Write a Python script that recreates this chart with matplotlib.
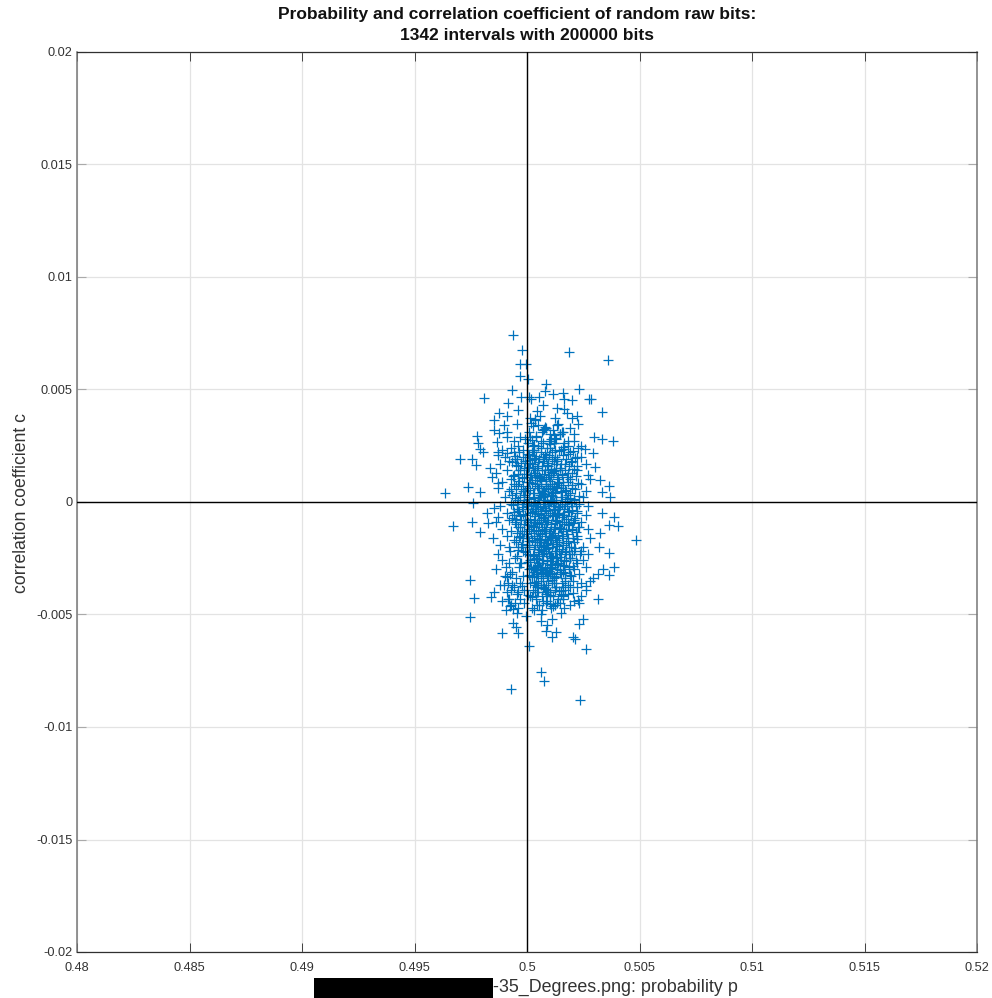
import numpy as np
import matplotlib
matplotlib.use('Agg')
import matplotlib.pyplot as plt
from matplotlib.patches import Rectangle

# values, in units of 1e-4 (p is an offset from 0.5)
outer_dp = [-6.2, -2.1, 18.5, 36, -3.1, -0.3, -3, 0.6, 8.3, 23.3, -6.7, 8.1, 11.7, 15.9, -19.1, -2.8,
            1, 1.8, 5.2, 16.4, 20, 27.7, 28.3, -8.3, 7, -3.9, -12.3, 4.3, 13.2, 16.4, 33.5, -8.7,
            17.6, 22, 19.9, -14.5, 1.3, 12.4, 3.6, -10.2, -4.3, 22.8, 13.8, 2.8, -14.5, -12.3, 11.7, 21,
            -22.1, 29.8, 33.3, 38, -22, -8.7, -13.5, -3, -20.9, -19.7, -12.7, -9, 22.8, 25.8, 29.2, -29.8,
            -24.6, -22.8, -16.4, 22, 30.2, -15.7, -12.7, -26.4, 36.6, 32.4, -36.3, -20.9, 33.5, 37, -24.1,
            -32.7, -24.3, -20.9, -17.2, -14.5, -18, -12.7, 40.6, 36.6, 38.7, 33.5, 48.4, 36.6, 32.1, 32.4,
            38.7, 33.9, 36.6, 29.5, 31.7, -25.5, 26.2, -23.4, -16.2, -14.5, 31.4, 22.8, 20.3, -25.5, -8.3,
            -7.6, -6.1, -4.3, -0.4, 6.1, 6.2, 11, 14.9, 24.8, 23.3, 9.1, -6.1, -4.9, -11, -4, 8.4,
            12.9, 11, 20.3, 21.2, 0.9, 26.1, 6.2, 7.4, -7.1, 23.7, 10.2, 11.4, 16, 13.2, 0.6, -3.9,
            4.3, 9.3, 16, -9, -6.7, -10.2, -2.4]
outer_c = [74.2, 67.7, 66.8, 63, 61.5, 61.5, 55.9, 54.8, 52.4, 50.2, 49.6, 49.2, 48.1, 48.3, 46.4, 46.8,
           46.5, 45.9, 46.8, 45.6, 45.3, 45.9, 45.6, 43.9, 43.1, 40.9, 39.7, 40.6, 41.8, 41.2, 40.1, 38.2,
           39.4, 38.4, 37.5, 36.3, 37.2, 37.2, 36.4, 34.4, 34.7, 34.5, 34.7, 33.8, 32, 30.8, 32, 30.2,
           29.2, 28.7, 28.1, 27.3, 26.2, 28.7, 26.8, 29, 23.7, 22.2, 22.4, 21.6, 23.9, 23.4, 21.6, 19.1,
           19.3, 16.3, 15, 20, 15.7, 11.3, 8.3, 6.8, 7.3, 9.8, 4.1, 4.4, 4.6, 2.4, -0.3,
           -10.8, -9, -13.3, -9.5, -2.8, -5, -6.5, -10.7, -10.2, -6.8, -5, -16.9, -22.8, -19.9, -14,
           -28.7, -29.9, -32.6, -33.9, -32, -34.7, -37.3, -42.5, -42.4, -40.1, -43.3, -43.7, -40.3, -51, -42.9,
           -46.2, -47.7, -49.5, -50.7, -49.8, -53, -51.9, -49.5, -51.9, -54.2, -54.7, -54, -55.7, -58.4, -58.4, -57.2,
           -57.9, -60.1, -59.9, -60.7, -64.1, -65.5, -75.4, -79.4, -83.1, -88.1, -45.3, -46.2, -41.2, -45, -41.5, -39.9,
           -39.9, -39.1, -37.6, -33.2, -36.9, -36.9, -37.3]

core_dp = [1, 4, 7, 10, 13, 16, 19, -1, -6, -9, 12, 5, 2.5, 8.5, 14.5, 18,
           -4, 0.5, 3, 6, 9, 12, 15, 18, 21, -7, -11, 24, 1.5, 5, 10.5, 16.5,
           -10, -6, -2, 1, 3.5, 6, 8.5, 11, 13.5, 16, 19, 24, -13, 2.5, 7.5, 12.5,
           -12, -8, -4, -1, 2, 4.5, 7, 9.5, 12, 14.5, 17, 20, 26, -5.5, 5.5, 10.5,
           -14, -9, -6, -3, 0.5, 3, 5.5, 8, 10.5, 13, 15.5, 18, 22, 27, 1.5, 6.5,
           -11, -7, -4, -1.5, 1, 3.5, 6, 8.5, 11, 13.5, 16, 19, 24, 28, 4.5, 9.5,
           -13, -8, -5, -2, 0.5, 2.5, 5, 7.5, 10, 12.5, 15, 17.5, 20, 26, 3.5, 8.5,
           -10, -6.5, -4, -1.5, 1, 3, 5.5, 8, 10.5, 13, 15.5, 18, 21, 25, 6.5, 11.5,
           -12, -7, -4.5, -2, 0.5, 2.5, 4.5, 7, 9.5, 12, 14.5, 17, 20, 23, 27, 10.5,
           -9, -6, -3.5, -1, 1.5, 3.5, 6, 8.5, 11, 13.5, 16, 18.5, 22, 26, 5, 12.5,
           -14, -8, -5, -2.5, 0.5, 3, 5.5, 8, 10.5, 13, 15.5, 18, 21, 24, 7, 9.5,
           -11, -7, -4, -1.5, 1, 2.5, 5, 7.5, 10, 12.5, 15, 17.5, 20, 23, 27, 3.5,
           -15, -9, -6, -3, 0.5, 3, 5.5, 8, 10.5, 13, 15.5, 18, 22, 28, 6.5, 11.5,
           -12, -8, -5, -2.5, 1, 3.5, 6, 8.5, 11, 13.5, 16, 18.5, 21, 25, 4.5, 9.5,
           -13, -7.5, -4.5, -2, 0.5, 3, 5.5, 7.5, 10, 12.5, 15, 17.5, 20, 24, 27, 8.5,
           -11, -8, -5.5, -3, 1.5, 4, 6.5, 9, 11.5, 14, 16.5, 19, 22, 25, 3, 13,
           -14, -9.5, -6.5, -3.5, 1, 3.5, 6, 8.5, 11, 13.5, 16, 18.5, 21, 26, 5, 10,
           -10, -7.5, -5, -2, 2, 4.5, 7, 9.5, 12, 14.5, 17, 19.5, 23, 28, 6, 11,
           -12, -8.5, -6, -3, 1.5, 3.5, 6, 8.5, 11, 13, 15.5, 18, 20.5, 24, 9.5, 4.5,
           -9, -7, -4.5, -1.5, 2.5, 5, 7.5, 10, 12.5, 15, 17, 19, 22, 26, 3.5, 8.5,
           -11, -8, -5.5, -3, 1.5, 4, 6.5, 9, 11.5, 14, 16, 18, 21, 24, 7, 10,
           -9.5, -7, -4, -1.5, 2, 4.5, 6.5, 8.5, 10.5, 12.5, 14.5, 16.5, 19, 23, 3, 5.5]
core_c = [31, 29, 32, 30, 28, 31, 33, 28, 27, 31, 26, 34, 25, 33, 30, 27,
          25, 26, 23, 27, 24, 26, 23, 25, 27, 24, 23, 25, 29, 25, 28, 26,
          20, 22, 20, 21, 19, 22, 20, 22, 19, 21, 22, 20, 21, 23, 19, 23,
          17, 18, 16, 18, 17, 15, 18, 16, 18, 15, 17, 18, 17, 19, 19, 14,
          13, 14, 12, 14, 15, 13, 11, 14, 12, 14, 12, 13, 14, 12, 11, 16,
          9, 10, 8, 11, 9, 11, 8, 10, 8, 10, 9, 10, 8, 10, 12, 12,
          6, 5, 7, 5, 6, 4, 6, 5, 7, 4, 6, 5, 6, 5, 8, 7,
          2, 3, 1, 3, 2, 0, 2, 1, 3, 1, 2, 3, 1, 2, 4, 4,
          -2, -1, -3, -1, -2, -3, -1, -2, -1, -3, -2, -1, -2, -1, -2, 0,
          -5, -6, -4, -6, -5, -4, -6, -4, -6, -5, -6, -4, -5, -6, -3, -3,
          -9, -8, -10, -8, -9, -8, -10, -8, -10, -8, -9, -10, -8, -9, -7, -6,
          -12, -13, -11, -13, -12, -11, -13, -12, -13, -11, -12, -13, -12, -11, -12, -9,
          -16, -15, -17, -15, -16, -15, -17, -15, -16, -17, -15, -16, -15, -16, -14, -14,
          -19, -20, -18, -20, -19, -18, -20, -19, -20, -18, -19, -20, -18, -20, -18, -17,
          -23, -22, -24, -22, -23, -21, -23, -22, -24, -22, -23, -22, -23, -22, -23, -21,
          -26, -27, -25, -27, -26, -25, -27, -26, -25, -27, -26, -25, -27, -26, -24, -25,
          -30, -29, -31, -29, -30, -29, -30, -31, -29, -30, -31, -29, -30, -29, -28, -28,
          -33, -32, -34, -33, -33, -32, -34, -32, -33, -31, -34, -33, -32, -35, -31, -32,
          -37, -36, -38, -36, -36, -37, -35, -37, -36, -38, -36, -37, -35, -36, -35, -38,
          -40, -39, -41, -39, -39, -40, -38, -40, -39, -41, -39, -38, -38, -39, -40, -41,
          -44, -43, -45, -43, -42, -43, -42, -44, -42, -43, -42, -41, -44, -42, -44, -42,
          -48, -46, -47, -45, -47, -46, -48, -45, -47, -46, -45, -47, -46, -45, -48, -46]

# the solid middle of the cloud
dense_dp = [2.2, 4.1, 6.4, 8.2, 10.4, 12.3, 14.2, 16.4, 18.1, 20.3, 0.4, -1.8, -3.6, -5.4, 3.3, 7.3,
            1.3, 3.2, 5.1, 7.2, 9.3, 11.1, 13.2, 15.3, 17.2, 19.4, 21.2, -0.7, -2.6, -4.6, -6.5, 9.9,
            2.7, 4.8, 6.8, 8.7, 10.8, 12.7, 14.8, 16.8, 18.7, 20.7, 22.3, -1.2, -3.1, -5.1, 0.9, 11.8,
            1.8, 3.7, 5.8, 7.7, 9.8, 11.7, 13.7, 15.7, 17.7, 19.8, 21.8, -0.3, -2.3, -4.2, -6.1, 6.3,
            2.4, 4.4, 6.2, 8.4, 10.2, 12.2, 14.3, 16.2, 18.3, 20.2, 22.6, 0.2, -1.6, -3.4, -5.7, 13.4,
            1.2, 3.1, 5.3, 7.1, 9.2, 11.3, 13.1, 15.2, 17.1, 19.2, 21.3, -0.9, -2.8, -4.8, -7.2, 8.1,
            2.9, 4.9, 6.9, 8.9, 10.9, 12.9, 14.9, 16.9, 18.9, 20.9, 23.1, 0.7, -1.4, -3.3, -5.2, 5.7,
            1.6, 3.6, 5.6, 7.6, 9.6, 11.6, 13.6, 15.6, 17.6, 19.6, 21.6, -0.5, -2.4, -4.4, -6.4, 10.1,
            2.1, 4.2, 6.1, 8.3, 10.3, 12.1, 14.1, 16.3, 18.2, 20.1, 22.1, 0.3, -1.9, -3.8, -5.9, 7.9,
            1.4, 3.4, 5.4, 7.4, 9.4, 11.4, 13.4, 15.4, 17.4, 19.4, 21.4, -0.8, -2.9, -4.7, -6.8, 12.6,
            2.6, 4.6, 6.6, 8.6, 10.6, 12.6, 14.6, 16.6, 18.6, 20.6, 22.8, 0.6, -1.3, -3.2, -5.3, 9.1,
            1.9, 3.9, 5.9, 7.9, 9.9, 11.9, 13.9, 15.9, 17.9, 19.9, 21.9, -0.4, -2.2, -4.3, 6.7, 14.4,
            2.3, 4.3, 6.3, 8.1, 10.1, 12.4, 14.4, 16.1, 18.4, 20.4, 22.4, 0.8, -1.7, -3.7, 5.2, 11.2,
            1.1, 3.5, 5.5, 7.5, 9.5, 11.5, 13.5, 15.5, 17.5, 19.5, 21.5, 0.1, -2.1, -4.1, 8.8, 6.1,
            2.8, 4.7, 6.7, 8.5, 10.7, 12.8, 14.7, 16.7, 18.8, 20.8, 23.4, 1.2, -1.1, -3.9, 7.1, 13.2,
            1.5, 3.3, 5.2, 7.3, 9.1, 11.2, 13.3, 15.1, 17.3, 19.1, 21.7, 0.5, -2.7, 4.5, 6.6, 10.6,
            2.5, 4.5, 6.5, 8.8, 10.5, 12.5, 14.5, 16.5, 18.5, 20.5, 1.7, 3.8, 5.9, 7.8, 9.7, 15.8,
            1.0, 3.0, 5.0, 7.0, 9.0, 11.0, 13.0, 15.0, 17.0, 19.0, 2.0, 4.0, 6.0, 8.0, 10.0, 12.0,
            2.2, 4.4, 6.2, 8.4, 10.6, 12.2, 14.4, 16.6, 18.2, 1.4, 3.6, 5.4, 7.6, 9.4, 11.6, 13.8,
            1.8, 3.2, 5.8, 7.2, 9.8, 11.2, 13.6, 15.2, 17.8, 2.6, 4.8, 6.4, 8.6, 10.2, 12.8, 14.2,
            2.4, 4.2, 6.8, 8.2, 10.4, 12.6, 14.8, 16.2, 1.6, 3.4, 5.6, 7.4, 9.6, 11.8, 13.4, 15.6,
            3.1, 5.1, 7.1, 9.1, 11.1, 13.1, 15.1, 2.1, 4.1, 6.1, 8.1, 10.1, 12.1, 14.1, 16.1, 17.1]
dense_c = [22.3, 20.6, 23.8, 21.4, 24.2, 20.2, 22.7, 23.6, 21.2, 22.8, 21.4, 23.1, 22.2, 20.6, 25.4, 26.2,
           18.7, 19.4, 17.6, 19.8, 17.3, 19.2, 18.2, 16.9, 19.1, 17.8, 19.6, 18.3, 17.2, 19.2, 17.7, 20.8,
           15.2, 16.1, 14.4, 16.3, 14.8, 16.7, 15.3, 14.2, 15.9, 14.6, 15.8, 15.2, 14.1, 16.4, 15.7, 13.8,
           11.8, 12.7, 10.6, 12.4, 11.2, 13.1, 10.9, 12.3, 11.1, 12.9, 11.7, 12.4, 10.8, 12.6, 11.4, 9.7,
           8.6, 7.3, 9.2, 7.8, 9.4, 7.2, 8.8, 7.4, 9.1, 7.6, 8.3, 8.8, 7.1, 9.3, 8.1, 6.7,
           5.2, 4.1, 6.3, 4.7, 5.8, 4.3, 6.1, 4.6, 5.4, 3.9, 5.7, 4.8, 5.9, 4.2, 5.6, 3.6,
           1.8, 0.7, 2.4, 1.1, 2.7, 0.9, 2.2, 0.6, 1.9, 1.3, 2.6, 1.2, 0.8, 2.3, 1.6, 3.1,
           -1.2, -0.4, -2.1, -0.8, -1.7, -0.3, -2.4, -0.9, -1.6, -0.5, -1.9, -1.1, -2.2, -0.7, -1.4, 0.4,
           -4.3, -3.2, -5.1, -3.6, -4.8, -3.4, -5.3, -3.1, -4.6, -3.7, -4.1, -3.3, -5.2, -3.8, -4.4, -2.6,
           -7.4, -6.3, -8.2, -6.8, -7.9, -6.1, -8.4, -6.6, -7.7, -6.2, -7.3, -8.1, -6.4, -7.6, -6.9, -5.6,
           -10.7, -9.4, -11.3, -9.8, -10.9, -9.2, -11.6, -9.7, -10.4, -9.3, -11.1, -10.2, -9.6, -11.2, -9.1, -8.8,
           -13.8, -12.6, -14.4, -12.9, -13.7, -12.2, -14.6, -13.1, -14.2, -12.4, -13.3, -14.1, -12.8, -13.6, -12.3, -11.7,
           -17.1, -15.8, -17.6, -16.3, -16.9, -15.6, -17.8, -16.2, -17.3, -15.9, -16.6, -17.4, -16.1, -15.4, -16.4, -15.2,
           -20.2, -18.9, -20.8, -19.3, -20.4, -18.7, -19.6, -20.9, -18.4, -19.8, -20.3, -19.1, -18.6, -19.9, -18.2, -21.2,
           -23.4, -22.1, -24.2, -22.6, -23.8, -21.9, -24.4, -22.4, -23.1, -21.7, -22.9, -23.6, -22.2, -21.4, -23.3, -24.6,
           -26.7, -25.3, -27.1, -25.8, -26.4, -25.1, -27.4, -25.6, -26.2, -24.9, -25.9, -26.6, -27.2, -25.4, -26.9, -27.6,
           -29.6, -28.4, -30.2, -28.8, -29.3, -28.1, -30.4, -28.6, -29.8, -28.3, -29.2, -30.1, -28.9, -29.4, -30.6, -28.2,
           -32.4, -31.2, -33.1, -31.7, -32.8, -31.4, -33.3, -32.1, -31.6, -32.6, -33.4, -31.8, -32.9, -31.3, -32.2, -33.6,
           9.6, 10.9, 3.1, 6.9, 13.4, 0.2, -2.9, -5.7, -8.7, 17.2, 14.3, 11.4, 2.8, 6.4, -0.6, -4.7,
           -10.1, -13.1, -16.8, -19.4, -22.7, -26.1, 8.4, 5.1, 1.4, -1.9, -5.4, -8.9, -12.7, -15.7, -18.8, -21.6,
           27.4, 29.3, 31.2, 33.4, 25.8, 28.6, 30.4, 24.4, 35.2, 36.8, 38.2, 32.6, 26.9, 29.8, 34.1, 30.9,
           -35.4, -36.7, -38.2, -40.1, -34.6, -37.8, -39.4, -42.1, -35.9, -37.1, -38.8, -41.2, -36.2, -39.7, -43.1, -34.9]

xticks = [0.48, 0.485, 0.49, 0.495, 0.5, 0.505, 0.51, 0.515, 0.52]
xtick_labels = ['0.48', '0.485', '0.49', '0.495', '0.5', '0.505', '0.51', '0.515', '0.52']
yticks = [-0.02, -0.015, -0.01, -0.005, 0, 0.005, 0.01, 0.015, 0.02]
ytick_labels = ['-0.02', '-0.015', '-0.01', '-0.005', '0', '0.005', '0.01', '0.015', '0.02']

plt.rcParams['font.family'] = ['Liberation Sans', 'DejaVu Sans']
W, H = 992, 998

p = 0.5 + np.array(outer_dp + core_dp + dense_dp) * 1e-4
c = np.array(outer_c + core_c + dense_c) * 1e-4

fig = plt.figure(figsize=(W / 100, H / 100), dpi=100)
ax = fig.add_axes([77 / W, 1 - 952 / H, 900 / W, 900 / H])
ax.plot(p, c, '+', color='#0072BD', ms=6.6, mew=0.9, zorder=2)
ax.axvline(0.5, color='black', lw=1, zorder=3)
ax.axhline(0, color='black', lw=1, zorder=3)

ax.set_xlim(0.48, 0.52)
ax.set_ylim(-0.02, 0.02)
ax.set_xticks(xticks, xtick_labels)
ax.set_yticks(yticks, ytick_labels)
ax.tick_params(axis='x', direction='in', length=6.5, width=0.7, color='#404040', labelcolor='#333333',
               labelsize=9.2, top=True, pad=7)
ax.tick_params(axis='y', direction='in', length=6.5, width=0.8, color='#aaaaaa', labelcolor='#333333',
               labelsize=9.2, right=True, pad=3)
ax.grid(True, color='#e3e3e3', lw=0.9)
ax.set_axisbelow(True)
for side, s in ax.spines.items():
    s.set_color('#303030' if side in ('top', 'bottom') else '#777777')
    s.set_linewidth(0.9 if side in ('top', 'bottom') else 1.1)

fig.text(517 / W, 1 - 14 / H, 'Probability and correlation coefficient of random raw bits:',
         ha='center', va='center', fontsize=12.55, fontweight='bold', color='#111111')
fig.text(527 / W, 1 - 36 / H, '1342 intervals with 200000 bits',
         ha='center', va='center', fontsize=12.55, fontweight='bold', color='#111111')
fig.text(22 / W, 1 - 503 / H, 'correlation coefficient c', rotation=90, ha='center', va='center',
         fontsize=12.7, color='#333333')
fig.text(493 / W, 1 - 987 / H, '-35_Degrees.png: probability p', ha='left', va='center',
         fontsize=12.9, color='#333333')
# blacked-out part of the file name
fig.add_artist(Rectangle((314 / W, 0), 179 / W, 20 / H, transform=fig.transFigure, color='black', lw=0))

fig.savefig('out.png', dpi=100)
